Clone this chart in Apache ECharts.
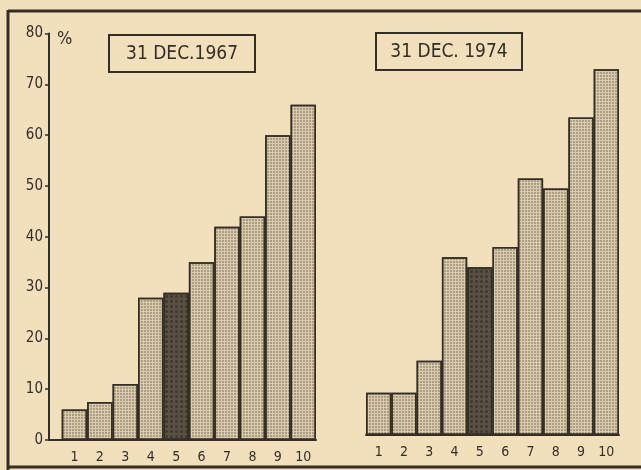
<!DOCTYPE html>
<html>
<head>
<meta charset="utf-8">
<script src="https://cdn.jsdelivr.net/npm/echarts@6/dist/echarts.min.js"></script>
<style>
html,body{margin:0;padding:0;background:#f2dfbc;}
#c{width:641px;height:470px;}
</style>
</head>
<body>
<div id="c"></div>
<script>
var categories = ['1','2','3','4','5','6','7','8','9','10'];
var values1967 = [6, 7.5, 11, 28, 29, 35, 42, 44, 60, 66];
var values1974 = [8.3, 8.3, 14.6, 35, 33, 37, 50.5, 48.5, 62.5, 72];
var yTicks = [0, 10, 20, 30, 40, 50, 60, 70, 80];
var titles = ['31 DEC.1967', '31 DEC. 1974'];
var darkIndex = 4;

var FONT = '"DejaVu Sans Condensed", "DejaVu Sans", sans-serif';
var INK = '#352e26';
var LIGHT = '#d9cbab';
var DARK = '#5a5145';
var DOTS = { symbol: 'rect', symbolSize: 0.9, dashArrayX: [2, 1], dashArrayY: [2, 1], color: 'rgba(70,60,48,0.35)' };
var DARKDOTS = { symbol: 'circle', symbolSize: 1, dashArrayX: [3, 2], dashArrayY: [3, 2], color: 'rgba(30,25,20,0.45)' };

function barItem(v, i, xVal) {
  return {
    value: xVal !== undefined ? [xVal, v] : v,
    itemStyle: {
      color: i === darkIndex ? DARK : LIGHT,
      decal: i === darkIndex ? DARKDOTS : DOTS
    }
  };
}

var leftData = values1967.map(function (v, i) { return barItem(v, i, i + 1); });
var rightData = values1974.map(function (v, i) { return barItem(v, i); });

var chart = echarts.init(document.getElementById('c'), null, { renderer: 'canvas' });
chart.setOption({
  backgroundColor: '#f2dfbc',
  animation: false,
  grid: [
    { left: 49, top: 33.6, width: 267, height: 406.4 },
    { left: 366, top: 28.6, width: 253, height: 406.4 }
  ],
  xAxis: [
    {
      gridIndex: 0, type: 'value', min: 0, max: 10.5, interval: 1,
      axisLine: { show: true, lineStyle: { color: INK, width: 2 } },
      axisTick: { show: false },
      splitLine: { show: false },
      axisLabel: {
        margin: 10, fontFamily: FONT, fontSize: 14, color: INK,
        showMaxLabel: false, showMinLabel: false,
        formatter: function (v) {
          var k = Math.round(v);
          return (Math.abs(v - k) < 1e-6 && k >= 1 && k <= categories.length) ? categories[k - 1] : '';
        }
      }
    },
    {
      gridIndex: 1, type: 'category', data: categories,
      axisLine: { show: true, lineStyle: { color: INK, width: 2 } },
      axisTick: { show: false },
      axisLabel: { margin: 10, fontFamily: FONT, fontSize: 14, color: INK }
    }
  ],
  yAxis: [
    {
      gridIndex: 0, type: 'value', min: yTicks[0], max: yTicks[yTicks.length - 1], interval: 10,
      name: '%', nameLocation: 'end', nameGap: -6,
      nameTextStyle: { fontFamily: FONT, fontSize: 18, color: INK, align: 'left', verticalAlign: 'middle', padding: [0, 0, 0, 8] },
      axisLine: { show: true, lineStyle: { color: INK, width: 2 } },
      axisTick: { show: true, length: 4, lineStyle: { color: INK, width: 1.5 } },
      splitLine: { show: false },
      axisLabel: { margin: 6, fontFamily: FONT, fontSize: 15, color: INK }
    },
    {
      gridIndex: 1, type: 'value', min: 0, max: 80, show: false, splitLine: { show: false }
    }
  ],
  series: [
    {
      type: 'bar', xAxisIndex: 0, yAxisIndex: 0, data: leftData, barWidth: 25.4,
      itemStyle: { borderColor: INK, borderWidth: 1.5 }
    },
    {
      type: 'bar', xAxisIndex: 1, yAxisIndex: 1, data: rightData, barWidth: '100%', barGap: '0%',
      itemStyle: { borderColor: INK, borderWidth: 1.5 }
    }
  ],
  graphic: [
    { type: 'line', shape: { x1: 8, y1: 11, x2: 641, y2: 11 }, style: { stroke: INK, lineWidth: 3 } },
    { type: 'line', shape: { x1: 8, y1: 10, x2: 8, y2: 470 }, style: { stroke: INK, lineWidth: 3 } },
    { type: 'line', shape: { x1: 8, y1: 467, x2: 641, y2: 467 }, style: { stroke: INK, lineWidth: 3 } },
    { type: 'rect', shape: { x: 109, y: 35, width: 146, height: 37 }, style: { fill: 'none', stroke: INK, lineWidth: 2 } },
    { type: 'text', x: 182, y: 54, style: { text: titles[0], font: '19px ' + FONT, fill: INK, align: 'center', verticalAlign: 'middle' } },
    { type: 'rect', shape: { x: 376, y: 33, width: 146, height: 37 }, style: { fill: 'none', stroke: INK, lineWidth: 2 } },
    { type: 'text', x: 449, y: 52, style: { text: titles[1], font: '19px ' + FONT, fill: INK, align: 'center', verticalAlign: 'middle' } }
  ]
});
</script>
</body>
</html>
